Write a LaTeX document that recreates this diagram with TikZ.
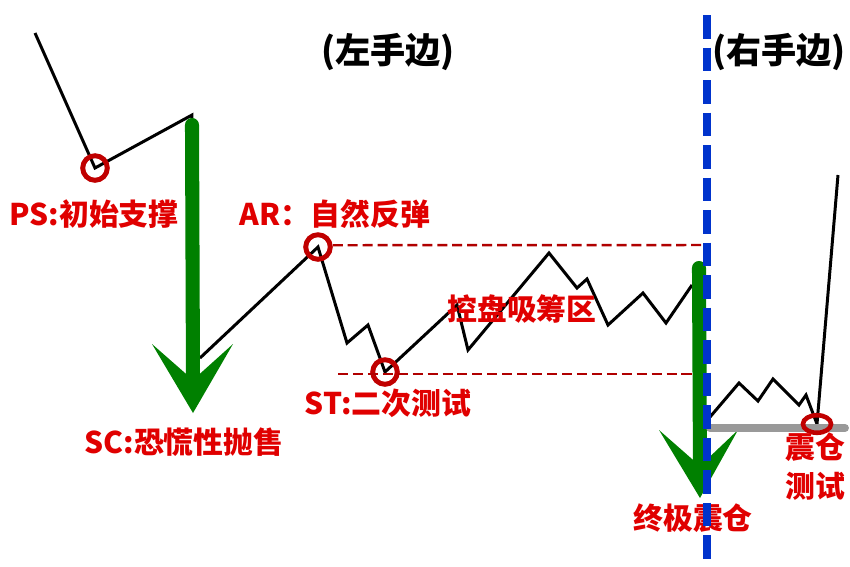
\documentclass[tikz,border=0pt]{standalone}
\usepackage{fontspec}
\newfontfamily\cjk{Noto Sans CJK SC}
\usetikzlibrary{shapes.geometric}
\definecolor{lblred}{HTML}{E00000}
\definecolor{ringred}{HTML}{C00000}
\definecolor{dashred}{HTML}{B00000}
\definecolor{arrgreen}{HTML}{008000}
\definecolor{divblue}{HTML}{0033CC}
\definecolor{floorgray}{HTML}{999999}
\begin{document}
\begin{tikzpicture}[x=0.02cm,y=-0.02cm,
  price/.style={line width=1.7pt, black, line join=miter},
  level/.style={line width=1.4pt, dashred, dash pattern=on 5.7pt off 2.8pt},
  shaft/.style={line width=8pt, arrgreen, line cap=round},
  head/.style={fill=arrgreen},
  ring/.style={draw=ringred, line width=2.8pt, circle, minimum size=14pt, inner sep=0pt},
  oval/.style={draw=ringred, line width=2.6pt, ellipse, minimum width=16pt, minimum height=10pt, inner sep=0pt},
  lbl/.style={text=lblred, font=\cjk\bfseries\fontsize{17}{20}\selectfont, inner sep=0pt},
  title/.style={text=black, font=\cjk\bfseries\fontsize{20}{23}\selectfont, inner sep=0pt},
  divider/.style={line width=4pt, divblue, dash pattern=on 13.5pt off 5pt},
  floor/.style={line width=4.5pt, floorgray, line cap=round}]
\useasboundingbox (0,0) rectangle (850,566);
% key points
\coordinate (p0) at (35,33);
\coordinate (ps) at (95,168);
\coordinate (p1) at (192,115);
\coordinate (p1b) at (192,121);
\coordinate (sclow) at (200,358);
\coordinate (ar) at (318,247);
\coordinate (q1) at (347,343);
\coordinate (q2) at (368,325);
\coordinate (st) at (385,372);
\coordinate (q3) at (457,305);
\coordinate (q4) at (468,350);
\coordinate (q5) at (549,253);
\coordinate (q6) at (577,288);
\coordinate (q7) at (587,279);
\coordinate (q8) at (608,325);
\coordinate (q9) at (643,293);
\coordinate (q10) at (666,323);
\coordinate (q11) at (692,285);
\coordinate (r0) at (710,417);
\coordinate (r1) at (739,383);
\coordinate (r2) at (758,401);
\coordinate (r3) at (773,379);
\coordinate (r4) at (799,405);
\coordinate (r5) at (806,395);
\coordinate (ut) at (817,424);
\coordinate (r7) at (838,175);
% levels
\coordinate (hiend) at (703,245);
\coordinate (lostart) at (338,374);
\coordinate (loend) at (702,374);
\coordinate (flstart) at (710,428);
\coordinate (flend) at (845,428);
% arrows
\coordinate (sctop) at (192,125);
\coordinate (scnotch) at (193,380);
\coordinate (sctip) at (193,413);
\coordinate (scl) at (152,344);
\coordinate (scr) at (233,344);
\coordinate (ustop) at (699,268);
\coordinate (usnotch) at (700,466);
\coordinate (ustip) at (700,498);
\coordinate (usl) at (659,430);
\coordinate (usr) at (738,430);
\coordinate (dvtop) at (707,15);
\coordinate (dvbot) at (707,566);

% price path
\draw[price] (p0) -- (ps) -- (p1) -- (p1b);
\draw[price] (sclow) -- (ar) -- (q1) -- (q2) -- (st) -- (q3) -- (q4) -- (q5) -- (q6) -- (q7) -- (q8) -- (q9) -- (q10) -- (q11);
\draw[price] (r0) -- (r1) -- (r2) -- (r3) -- (r4) -- (r5) -- (ut) -- (r7);

% rings
\node[ring] (psring) at (ps) {};
\node[ring] (arring) at (ar) {};
\node[ring] (string) at (st) {};

% levels
\draw[level] ([yshift=1pt]arring.east) -- (hiend);
\draw[level] (lostart) -- (loend);

% green arrows
\draw[shaft] (sctop) -- (scnotch);
\fill[head] (scl) -- (sctip) -- (scr) -- (scnotch) -- cycle;
\draw[shaft] (ustop) -- (usnotch);
\fill[head] (usl) -- (ustip) -- (usr) -- (usnotch) -- cycle;

% floor
\draw[floor] (flstart) -- (flend);
\node[oval] (utring) at (ut) {};

% labels
\node[title] (lt) at (388,52) {(左手边)};
\node[title] (rt) at (779,52) {(右手边)};
\node[lbl] (pslbl) at (94,214) {PS:初始支撑};
\node[lbl] (arlbl) at (335,214) {AR：自然反弹};
\node[lbl] (sclbl) at (184,442) {SC:恐慌性抛售};
\node[lbl] (stlbl) at (388,403) {ST:二次测试};
\node[lbl] (zone) at (522,309) {控盘吸筹区};
\node[lbl] (uslbl) at (693,518) {终极震仓};
\node[lbl] (ut1) at (815,447) {震仓};
\node[lbl] (ut2) at (815,486) {测试};

% divider
\draw[divider] (dvtop) -- (dvbot);
\end{tikzpicture}
\end{document}
